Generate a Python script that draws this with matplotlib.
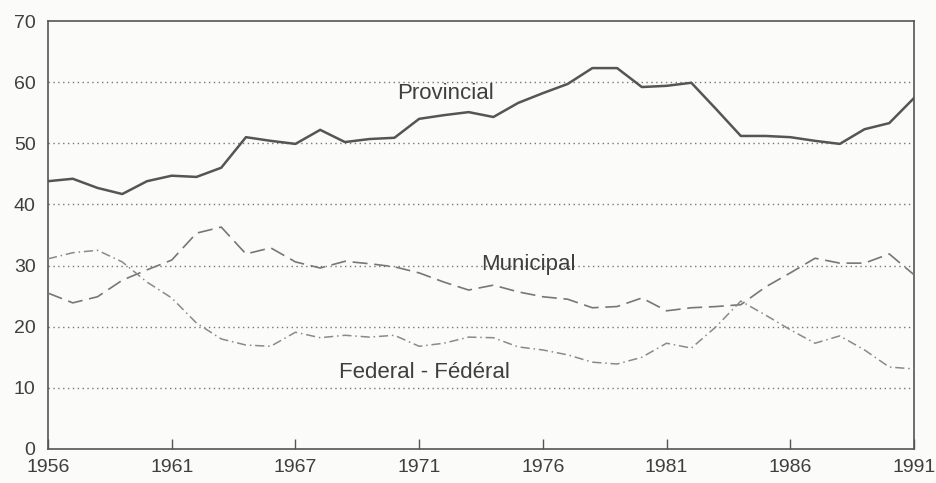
import matplotlib
matplotlib.use("Agg")
import matplotlib.pyplot as plt

years = list(range(1956, 1992))
provincial = [43.8, 44.2, 42.7, 41.7, 43.8, 44.7, 44.5, 46.0, 51.0, 50.4, 49.9, 52.2,
              50.2, 50.7, 50.9, 54.0, 54.6, 55.1, 54.3, 56.6, 58.2, 59.7, 62.3, 62.3,
              59.2, 59.4, 59.9, 55.6, 51.2, 51.2, 51.0, 50.4, 49.9, 52.3, 53.3, 57.4]
municipal = [25.5, 23.9, 24.9, 27.6, 29.3, 30.9, 35.3, 36.3, 31.9, 32.9, 30.6, 29.6,
             30.7, 30.3, 29.8, 28.8, 27.3, 26.0, 26.8, 25.7, 24.9, 24.5, 23.1, 23.3,
             24.7, 22.6, 23.1, 23.3, 23.6, 26.5, 28.8, 31.2, 30.4, 30.4, 31.9, 28.5]
federal = [31.1, 32.1, 32.5, 30.6, 27.3, 24.7, 20.6, 18.0, 17.0, 16.8, 19.1, 18.2,
           18.6, 18.3, 18.6, 16.8, 17.3, 18.3, 18.2, 16.7, 16.2, 15.4, 14.2, 13.9,
           15.0, 17.3, 16.5, 20.0, 24.2, 21.9, 19.5, 17.3, 18.5, 16.2, 13.4, 13.1]

tick_pos = [1956, 1961, 1966, 1971, 1976, 1981, 1986, 1991]
tick_labels = ["1956", "1961", "1967", "1971", "1976", "1981", "1986", "1991"]
y_ticks = [0, 10, 20, 30, 40, 50, 60, 70]

plt.rcParams['font.family'] = ['Liberation Sans', 'DejaVu Sans']
ink = "#555555"
txt = "#3f3f3f"

fig = plt.figure(figsize=(9.36, 4.83), dpi=100, facecolor="#fbfbfa")
ax = fig.add_axes([0.0513, 0.0704, 0.9252, 0.8861])
ax.set_facecolor("#fbfbfa")

for v in y_ticks[1:-1]:
    ax.axhline(v, color="#777777", lw=1.0, ls=(0, (1, 2.5)), zorder=1)

ax.plot(years, provincial, color=ink, lw=1.8, zorder=3)
ax.plot(years, municipal, color="#777777", lw=1.2, ls=(0, (9, 4)), zorder=3)
ax.plot(years, federal, color="#8a8a8a", lw=1.1, ls=(0, (6, 2.5, 1, 2.5)), zorder=3)

ax.text(1972.05, 58.1, "Provincial", fontsize=16, color=txt, ha="center", va="center")
ax.text(1975.4, 30.1, "Municipal", fontsize=16, color=txt, ha="center", va="center")
ax.text(1971.2, 12.5, "Federal - Fédéral", fontsize=16, color=txt, ha="center", va="center")

ax.set_xlim(1956, 1991)
ax.set_ylim(0, 70)
ax.set_xticks(tick_pos)
ax.set_xticklabels(tick_labels, fontsize=14, color=txt)
ax.set_yticks(y_ticks)
ax.set_yticklabels([str(v) for v in y_ticks], fontsize=14, color=txt)
ax.tick_params(axis="x", direction="in", length=7, width=1, color=ink, pad=7)
ax.tick_params(axis="y", length=0, pad=9)
for s in ax.spines.values():
    s.set_color(ink)
    s.set_linewidth(1.2)

fig.savefig("out.png", dpi=100, facecolor=fig.get_facecolor())
